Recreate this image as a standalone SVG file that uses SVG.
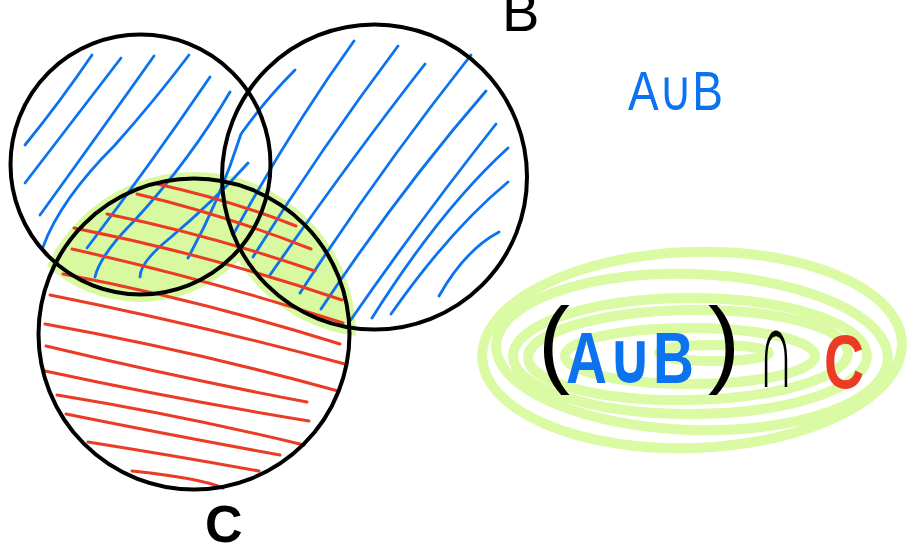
<svg xmlns="http://www.w3.org/2000/svg" width="914" height="553" viewBox="0 0 914 553">
<defs>
<style>
.circ{fill:none;stroke:#000;stroke-width:4}
.blue{fill:none;stroke:#0b72f0;stroke-width:2.8;stroke-linecap:round}
.red{fill:none;stroke:#ec3b24;stroke-width:3;stroke-linecap:round}
.ring{fill:none;stroke:#dafaa3;stroke-width:10;stroke-linecap:round}
.hand{font-family:"Liberation Sans","DejaVu Sans",sans-serif}
</style>
<clipPath id="clipC"><circle cx="194" cy="334" r="162"/></clipPath>
</defs>
<rect width="914" height="553" fill="#fff"/>
<g id="green-fill" clip-path="url(#clipC)" fill="#d8f9a0">
<circle cx="140" cy="164" r="138"/>
<circle cx="375" cy="177" r="160"/>
</g>
<g id="hatch-blue">
<path class="blue" d="M25 145 Q60 102 92 55"/>
<path class="blue" d="M25 183 Q75 118 121 58"/>
<path class="blue" d="M40 215 Q100 132 154 56"/>
<path class="blue" d="M43 247 Q60 200 115 145 Q155 100 189 55"/>
<path class="blue" d="M87 248 Q150 165 210 77"/>
<path class="blue" d="M95 277 Q100 255 135 220 Q190 160 230 92"/>
<path class="blue" d="M140 277 Q140 262 170 238 Q215 200 248 163"/>
<path class="blue" d="M188 258 Q220 200 241 134 Q265 100 295 70"/>
<path class="blue" d="M233 235 Q290 130 354 41"/>
<path class="blue" d="M253 257 Q320 150 398 46"/>
<path class="blue" d="M270 275 Q350 160 425 64"/>
<path class="blue" d="M300 293 Q380 170 471 55"/>
<path class="blue" d="M321 309 Q400 190 486 91"/>
<path class="blue" d="M350 321 Q420 220 496 124"/>
<path class="blue" d="M391 314 Q450 230 508 182"/>
<path class="blue" d="M372 318 Q440 210 508 148"/>
<path class="blue" d="M439 296 Q465 250 499 232"/>
</g>
<g id="hatch-red">
<path class="red" d="M157 184 Q230 200 296 226"/>
<path class="red" d="M137 194 Q225 215 311 249"/>
<path class="red" d="M107 214 Q210 235 315 271"/>
<path class="red" d="M74 228 Q210 255 342 300"/>
<path class="red" d="M72 249 Q210 280 343 323"/>
<path class="red" d="M63 274 Q200 300 340 344"/>
<path class="red" d="M50 295 Q200 325 345 364"/>
<path class="red" d="M45 324 Q190 350 338 391"/>
<path class="red" d="M46 346 Q180 378 307 402"/>
<path class="red" d="M45 371 Q180 400 309 421"/>
<path class="red" d="M57 395 Q180 415 304 445"/>
<path class="red" d="M66 414 Q170 435 280 455"/>
<path class="red" d="M88 442 Q170 455 259 471"/>
<path class="red" d="M132 471 Q200 478 223 488"/>
</g>
<g id="circle-A"><circle class="circ" cx="140.5" cy="164.5" r="130"/></g>
<g id="circle-B"><circle class="circ" cx="374.5" cy="177" r="152.5"/></g>
<g id="circle-C"><circle class="circ" cx="194" cy="334" r="155.5"/></g>
<g id="label-B"><text class="hand" x="502" y="31" font-size="56" fill="#000">B</text></g>
<g id="label-C"><text class="hand" x="205" y="542" font-size="52" font-weight="bold" fill="#000">C</text></g>
<g id="label-AuB"><text class="hand" x="628" y="110" font-size="56" fill="#0b72f0" textLength="95" lengthAdjust="spacingAndGlyphs">A∪B</text></g>
<g id="expression">
<g id="scribble">
<ellipse class="ring" cx="692" cy="350" rx="210" ry="98" transform="rotate(-2 692 350)"/>
<ellipse class="ring" cx="692" cy="352" rx="196" ry="78" transform="rotate(2 692 352)"/>
<ellipse class="ring" cx="690" cy="356" rx="177" ry="58"/>
<ellipse class="ring" cx="688" cy="355" rx="160" ry="45" transform="rotate(-1 688 355)"/>
<ellipse class="ring" cx="690" cy="356" rx="125" ry="28"/>
<ellipse class="ring" cx="714" cy="353" rx="55" ry="8"/>
</g>
<text class="hand" x="538" y="375" font-size="96" fill="#000">(</text>
<text class="hand" x="566" y="383" font-size="72" font-weight="bold" fill="#0b72f0" textLength="128" lengthAdjust="spacingAndGlyphs">A∪B</text>
<text class="hand" x="708" y="375" font-size="96" fill="#000">)</text>
<text class="hand" x="758" y="387" font-size="112" font-weight="bold" fill="#000" textLength="36" lengthAdjust="spacingAndGlyphs">∩</text>
<text class="hand" x="824" y="388" font-size="76" font-weight="bold" fill="#ec3b24" textLength="40" lengthAdjust="spacingAndGlyphs">C</text>
</g>
</svg>
